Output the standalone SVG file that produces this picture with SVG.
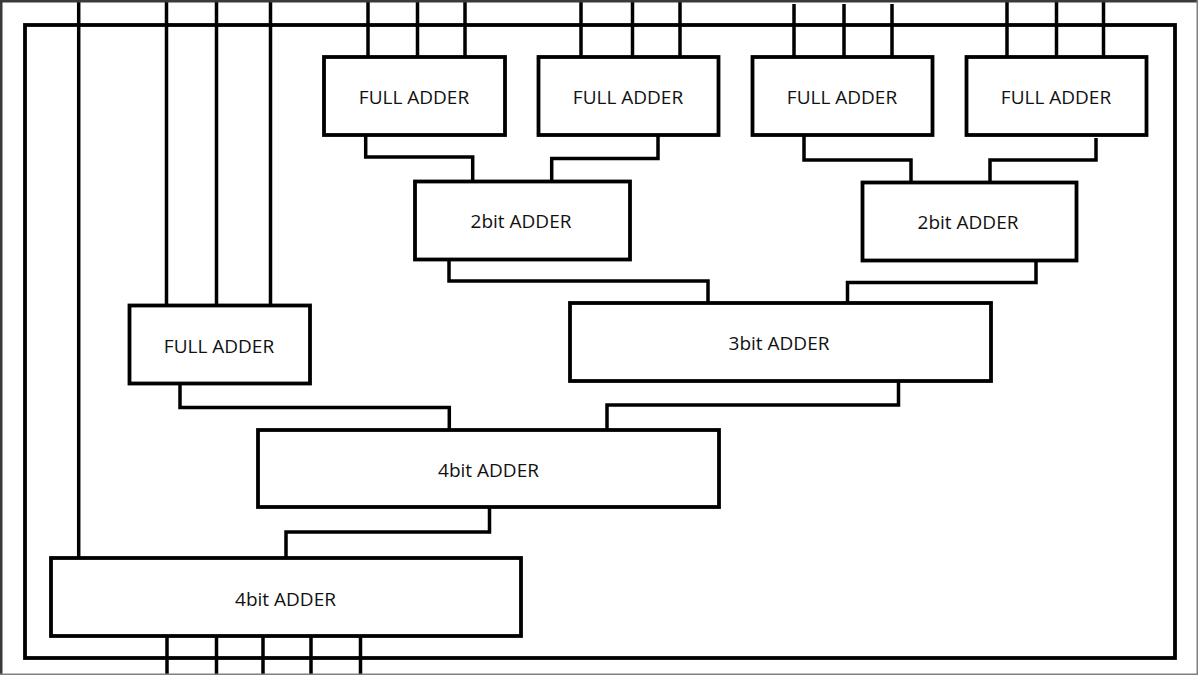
<svg xmlns="http://www.w3.org/2000/svg" width="1198" height="675" viewBox="0 0 1198 675">
<style>
.box{fill:#ffffff;stroke:#000;stroke-width:3.8}
.frame{fill:none;stroke:#000;stroke-width:3.8}
.wire{fill:none;stroke:#000;stroke-width:3.5}
.lbl{font-family:"Open Sans","Liberation Sans",sans-serif;font-size:19px;fill:#111;text-anchor:middle}
</style>
<rect x="0" y="0" width="1198" height="675" fill="#ffffff"/>
<g id="frame">
<rect class="frame" x="25" y="25" width="1150" height="633"/>
</g>
<g id="connectors">
<path class="wire" d="M368 0V57M417.5 0V57M465 0V57"/>
<path class="wire" d="M581 0V57M632.5 0V57M680 0V57"/>
<path class="wire" d="M794 4V57M844 4V57M892 4V57"/>
<path class="wire" d="M1007 0V57M1056.5 0V57M1103.5 0V57"/>
<path class="wire" d="M166.5 0V305.5M216.5 0V305.5M270.5 0V305.5"/>
<path class="wire" d="M78.7 0V558"/>
<path class="wire" d="M167 636V675M216.5 636V675M263 636V675M311 636V675M360.5 636V675"/>
<path class="wire" d="M365.7 135V157H472.7V181.5"/>
<path class="wire" d="M658 135V158.5H551.7V181.5"/>
<path class="wire" d="M804 135V160H911V182.5"/>
<path class="wire" d="M1096 138V160H990V182.5"/>
<path class="wire" d="M449 259.5V281H708V303"/>
<path class="wire" d="M1036 260.5V282.5H847.5V303"/>
<path class="wire" d="M180 383.5V407.5H449.3V430"/>
<path class="wire" d="M898.5 381V405H607V430"/>
<path class="wire" d="M489.5 507V532H286V558"/>
</g>
<g id="fa1"><rect class="box" x="324" y="57" width="181" height="78"/><text class="lbl" x="414" y="104">FULL ADDER</text></g>
<g id="fa2"><rect class="box" x="538.5" y="57" width="180" height="78"/><text class="lbl" x="628" y="104">FULL ADDER</text></g>
<g id="fa3"><rect class="box" x="752.5" y="57" width="180" height="78"/><text class="lbl" x="842" y="104">FULL ADDER</text></g>
<g id="fa4"><rect class="box" x="966.5" y="57" width="180" height="78"/><text class="lbl" x="1056" y="104">FULL ADDER</text></g>
<g id="add2a"><rect class="box" x="415" y="181.5" width="215" height="78"/><text class="lbl" x="521" y="228">2bit ADDER</text></g>
<g id="add2b"><rect class="box" x="862.5" y="182.5" width="214" height="78"/><text class="lbl" x="968" y="229">2bit ADDER</text></g>
<g id="add3"><rect class="box" x="570" y="303" width="421" height="78"/><text class="lbl" x="779" y="350">3bit ADDER</text></g>
<g id="fa5"><rect class="box" x="129.5" y="305.5" width="180.5" height="78"/><text class="lbl" x="219" y="352.5">FULL ADDER</text></g>
<g id="add4a"><rect class="box" x="258" y="430" width="461" height="77"/><text class="lbl" x="488.5" y="477">4bit ADDER</text></g>
<g id="add4b"><rect class="box" x="51" y="558" width="470" height="78"/><text class="lbl" x="285.5" y="606">4bit ADDER</text></g>
<g id="border">
<rect x="0" y="0" width="1198" height="2.5" fill="#3a3a3a"/>
<rect x="0" y="0" width="2.5" height="675" fill="#3a3a3a"/>
<rect x="0" y="673.5" width="1198" height="1.5" fill="#808080"/>
<rect x="1196.5" y="0" width="1.5" height="675" fill="#808080"/>
</g>
</svg>
